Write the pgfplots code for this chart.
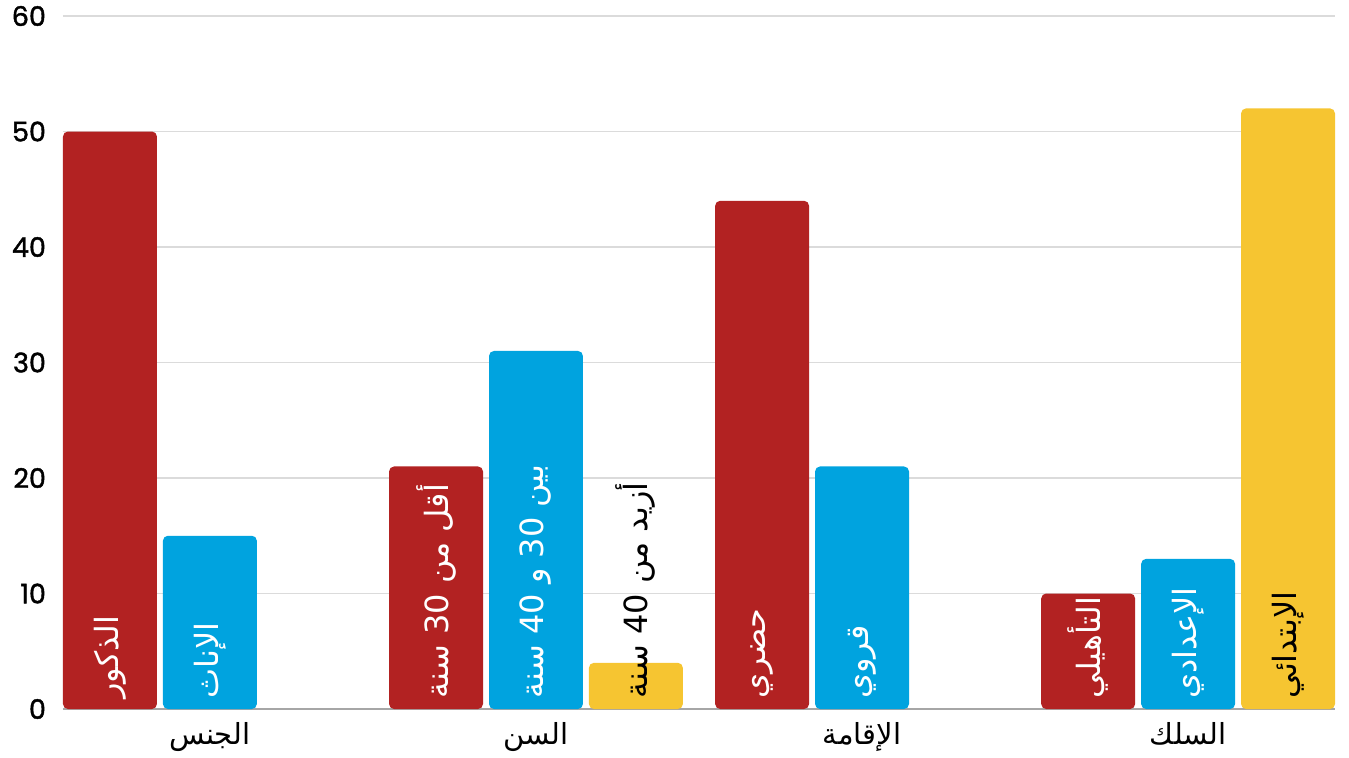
\documentclass[border=0pt]{standalone}
\usepackage{pgfplots}
\usepackage{pgfplotstable}
\pgfplotsset{compat=1.18}
\usepackage{fontspec}
\setmainfont{Poppins}
\newfontfamily\tickfont[FakeBold=1.5]{Poppins}
\newfontfamily\arabicfont[Script=Arabic]{DejaVu Sans}
\TeXXeTstate=1

\definecolor{cred}{HTML}{B22222}
\definecolor{cblue}{HTML}{00A3DF}
\definecolor{cyellow}{HTML}{F6C531}

% labels inside the bars (x = bar position, y = base); set between \beginR ... \endR below
\pgfplotstableread[col sep=comma]{
x,y,label
0,0,الذكور
1,0,الإناث
3.263,0,أقل من 30 سنة
4.263,0,بين 30 و 40 سنة
6.526,0,حضري
7.526,0,قروي
9.789,0,التأهيلي
10.789,0,الإعدادي
}\whitelabels
\pgfplotstableread[col sep=comma]{
x,y,label
5.263,0,أزيد من 40 سنة
11.789,0,الإبتدائي
}\blacklabels

\begin{document}
\begin{tikzpicture}
\begin{axis}[
    scale only axis,
    width=636pt, height=346.5pt,
    xmin=-0.47, xmax=12.259,
    ymin=0, ymax=60,
    ytick={0,10,...,60},
    xtick={1,4.263,7.526,10.789},
    xticklabels={الجنس,السن,الإقامة,السلك},
    ymajorgrids,
    grid style={draw=black!14, line width=0.7pt},
    axis x line*=bottom, axis y line*=left,
    y axis line style={draw=none},
    x axis line style={draw=black!35, line width=0.8pt, -},
    major tick length=0pt,
    /pgf/number format/assume math mode=true,
    yticklabel style={font=\tickfont\fontsize{13.5}{15}\selectfont, xshift=-5pt},
    xticklabel style={font=\arabicfont\fontsize{14.5}{16}\selectfont, yshift=-3pt},
    clip=false,
]
\addplot[ybar, bar width=0.94, bar shift=0pt, fill=cred, draw=none, rounded corners=2.5pt]
    coordinates {(0,50) (3.263,21) (6.526,44) (9.789,10)};
\addplot[ybar, bar width=0.94, bar shift=0pt, fill=cblue, draw=none, rounded corners=2.5pt]
    coordinates {(1,15) (4.263,31) (7.526,21) (10.789,13)};
\addplot[ybar, bar width=0.94, bar shift=0pt, fill=cyellow, draw=none, rounded corners=2.5pt]
    coordinates {(5.263,4) (11.789,52)};

\addplot[draw=none, mark=none, point meta=explicit symbolic,
    nodes near coords={\arabicfont\beginR\pgfplotspointmeta\endR},
    nodes near coords style={white, rotate=90, anchor=west, inner xsep=5pt,
        font=\fontsize{16}{18}\selectfont}]
    table[x=x, y=y, meta=label]{\whitelabels};
\addplot[draw=none, mark=none, point meta=explicit symbolic,
    nodes near coords={\arabicfont\beginR\pgfplotspointmeta\endR},
    nodes near coords style={black, rotate=90, anchor=west, inner xsep=5pt,
        font=\fontsize{16}{18}\selectfont}]
    table[x=x, y=y, meta=label]{\blacklabels};
\end{axis}
\pgfresetboundingbox
\path (-31.5pt,-24pt) rectangle (643pt,354.5pt);
\end{tikzpicture}
\end{document}
